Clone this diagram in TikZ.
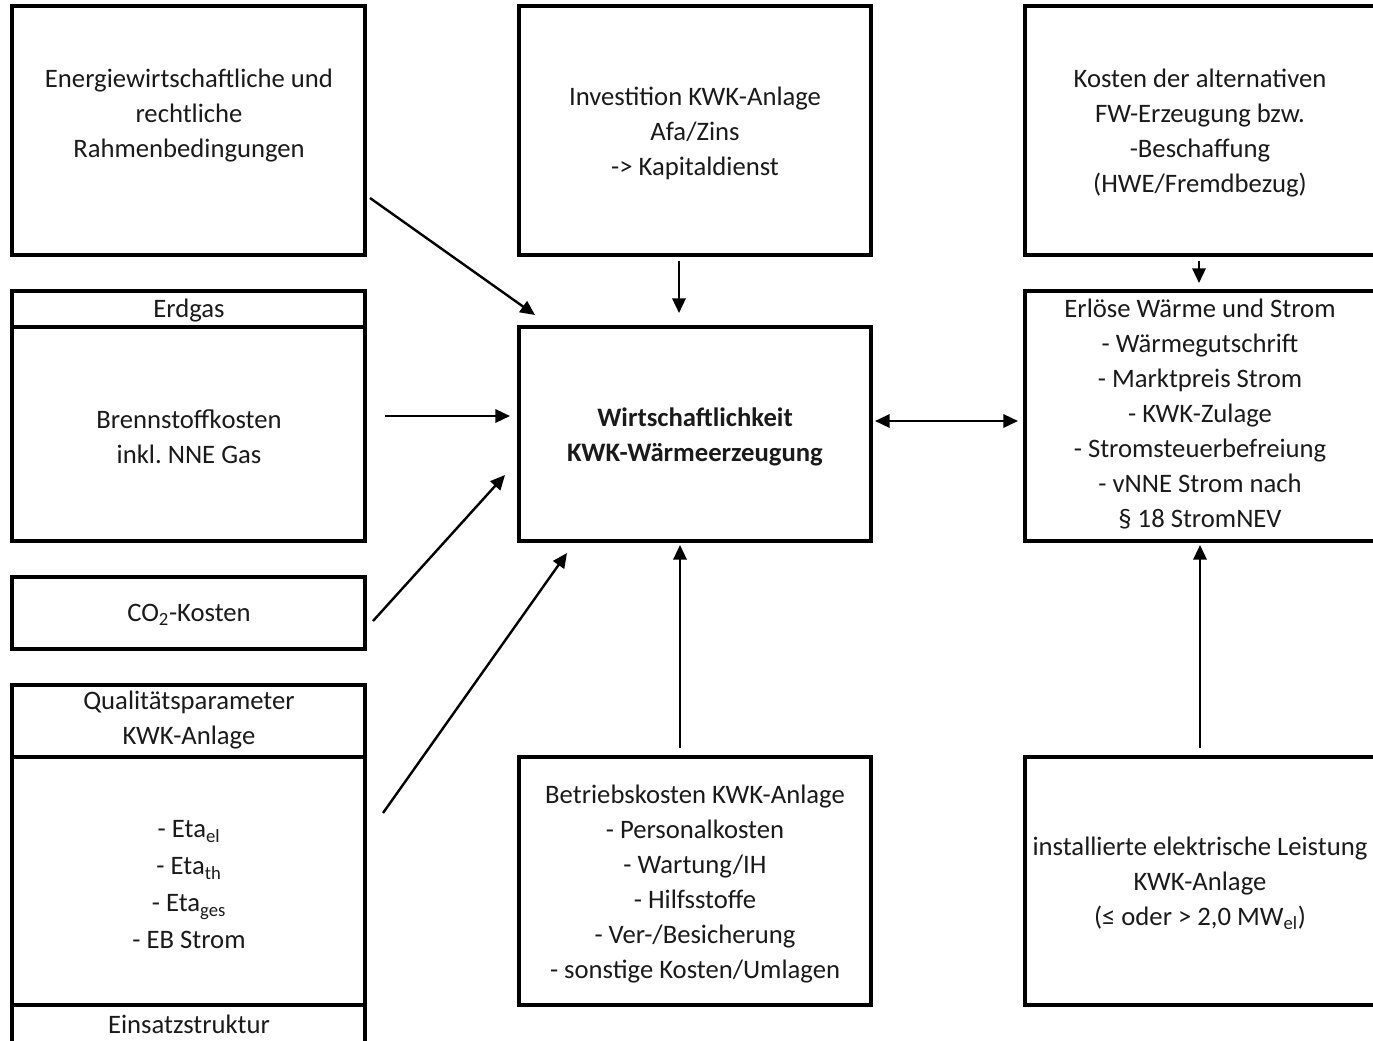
\documentclass[tikz,border=0pt]{standalone}
\usepackage{fontspec}
\setmainfont{Carlito}
\frenchspacing
\usetikzlibrary{arrows.meta,fit,calc}
\definecolor{textgray}{HTML}{1A1A1A}
\begin{document}
\begin{tikzpicture}[x=0.75pt,y=-0.75pt,
  box/.style={draw, line width=3pt, inner sep=0pt, outer sep=0pt},
  txt/.style={align=center, inner sep=0pt, text=textgray, font=\fontsize{20pt}{26.25pt}\selectfont},
  arr/.style={line width=1.8pt, -{Triangle[length=11pt,width=10pt]}},
  darr/.style={line width=1.8pt, {Triangle[length=11pt,width=10pt]}-{Triangle[length=11pt,width=10pt]}}]
\useasboundingbox (0,0) rectangle (1373,1040);
% left column
\node[box, fit={(12,6) (365,255)}] (A) {};
\node[txt] (At) at (189,116) {Energiewirtschaftliche und\\rechtliche\\Rahmenbedingungen};
\node[box, fit={(12,291) (365,327)}] (Eh) {};
\node[txt] (Eht) at (189,311) {Erdgas};
\node[box, fit={(12,327) (365,541)}] (Eb) {};
\node[txt] (Ebt) at (189,436.5) {Brennstoffkosten\\inkl. NNE Gas};
\node[box, fit={(12,577) (365,649)}] (Co) {};
\node[txt] (Cot) at (189,615) {CO\textsubscript{2}-Kosten};
\node[box, fit={(12,685) (365,757)}] (Qh) {};
\node[txt] (Qht) at (189,720.5) {Qualitätsparameter\\KWK-Anlage};
\node[box, fit={(12,757) (365,1005)}] (Qb) {};
\node[txt, font=\fontsize{20pt}{27.75pt}\selectfont] (Qbt) at (189,885) {- Eta\textsubscript{el}\\- Eta\textsubscript{th}\\- Eta\textsubscript{ges}\\- EB Strom};
\node[box, fit={(12,1005) (365,1070)}] (Qe) {};
\node[txt] (Qet) at (189,1024) {Einsatzstruktur};
% middle column
\node[box, fit={(519,6) (871,255)}] (I) {};
\node[txt] (It) at (695,133) {Investition KWK-Anlage\\Afa/Zins\\-> Kapitaldienst};
\node[box, fit={(519,327) (871,541)}] (C) {};
\node[txt, font=\fontsize{20pt}{26.25pt}\selectfont\bfseries] (Ct) at (695,436.5) {Wirtschaftlichkeit\\KWK-Wärmeerzeugung};
\node[box, fit={(519,757) (871,1005)}] (B) {};
\node[txt] (Bt) at (695,884.5) {Betriebskosten KWK-Anlage\\- Personalkosten\\- Wartung/IH\\- Hilfsstoffe\\- Ver-/Besicherung\\- sonstige Kosten/Umlagen};
% right column
\node[box, fit={(1025,6) (1375,255)}] (K) {};
\node[txt] (Kt) at (1200,133.5) {Kosten der alternativen\\FW-Erzeugung bzw.\\-Beschaffung\\(HWE/Fremdbezug)};
\node[box, fit={(1025,291) (1375,541)}] (E) {};
\node[txt] (Et) at (1200,414.5) {Erlöse Wärme und Strom\\- Wärmegutschrift\\- Marktpreis Strom\\- KWK-Zulage\\- Stromsteuerbefreiung\\- vNNE Strom nach\\§ 18 StromNEV};
\node[box, fit={(1025,757) (1375,1005)}] (L) {};
\node[txt] (Lt) at (1200,883) {installierte elektrische Leistung\\KWK-Anlage\\(≤ oder > 2,0 MW\textsubscript{el})};
% connectors
\draw[arr] ($(A.south east)+(5,-57)$) -- ($(C.north west)+(16,-12)$);
\draw[arr] ($(I.south)+(-16,6)$) -- ($(C.north)+(-16,-14)$);
\draw[arr] ($(Eb.east)+(20,-18)$) -- ($(C.west)+(-9,-18)$);
\draw[arr] ($(Co.east)+(8,8)$) -- ($(C.west)+(-14,41)$);
\draw[arr] ($(Qb.east)+(18,-68)$) -- ($(C.south west)+(48,12)$);
\draw[arr] ($(B.north)+(-15,-9)$) -- ($(C.south)+(-15,4)$);
\draw[darr] ($(C.east)+(4,-13)$) -- ($(E.west)+(-7,5)$);
\draw[arr] ($(K.south)+(-1,6)$) -- ($(E.north)+(-1,-8)$);
\draw[arr] ($(L.north)+(0,-9)$) -- ($(E.south)+(0,4)$);
\end{tikzpicture}
\end{document}
